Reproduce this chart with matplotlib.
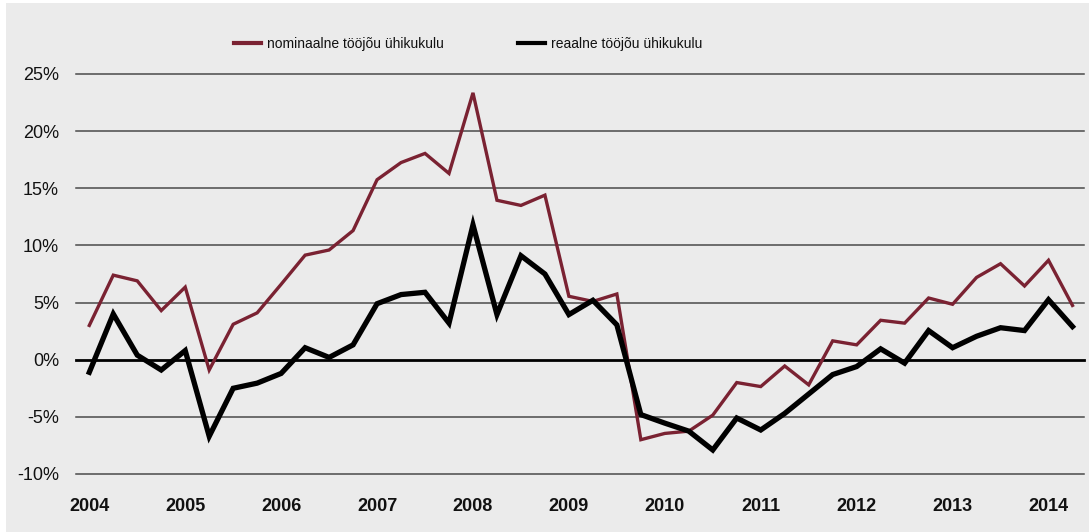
import matplotlib
matplotlib.use("Agg")
import matplotlib.pyplot as plt
from matplotlib.patches import Rectangle
import numpy as np

plt.rcParams['font.family'] = ['Liberation Sans', 'DejaVu Sans']

years = ['2004', '2005', '2006', '2007', '2008', '2009', '2010', '2011', '2012', '2013', '2014']
yticks = [-10, -5, 0, 5, 10, 15, 20, 25]

nominal = [3.0, 7.4, 6.9, 4.3, 6.35, -0.9, 3.1, 4.1, 6.6, 9.15, 9.6, 11.3,
           15.75, 17.25, 18.05, 16.3, 23.35, 13.95, 13.5, 14.4, 5.55, 5.1, 5.75,
           -7.0, -6.45, -6.25, -4.85, -2.0, -2.35, -0.55, -2.2, 1.65, 1.3, 3.45, 3.2,
           5.4, 4.85, 7.2, 8.4, 6.45, 8.7, 4.75]
real = [-1.1, 4.0, 0.4, -0.9, 0.8, -6.7, -2.5, -2.05, -1.2, 1.05, 0.2, 1.3,
        4.9, 5.7, 5.9, 3.2, 11.8, 3.95, 9.1, 7.5, 3.95, 5.2, 3.05,
        -4.8, -5.55, -6.25, -7.9, -5.1, -6.15, -4.7, -3.0, -1.3, -0.6, 0.95, -0.3,
        2.55, 1.05, 2.05, 2.8, 2.55, 5.25, 2.9]

W, H = 1089, 532
fig = plt.figure(figsize=(W / 100, H / 100), dpi=100)
fig.patch.set_facecolor('white')
fig.patches.append(Rectangle((6 / W, 0), 1 - 6 / W, 1 - 3 / H, transform=fig.transFigure,
                             facecolor='#ebebeb', edgecolor='none', zorder=-10))

ax = fig.add_axes([75.7 / W, 1 - 474 / H, (1084 - 75.7) / W, (474 - 74) / H])
ax.patch.set_alpha(0)

x = np.arange(len(nominal))
red = '#7a2232'

for v in yticks:
    if v == 0:
        continue
    ax.axhline(v, color='#4a4a4a', lw=1.1, zorder=1, clip_on=False)
ax.axhline(0, color='black', lw=2.0, zorder=2, clip_on=False)

ax.plot(x, nominal, color=red, lw=2.4, solid_joinstyle='miter', zorder=3,
        label='nominaalne tööjõu ühikukulu')
ax.plot(x, real, color='black', lw=3.8, solid_joinstyle='miter', zorder=4,
        label='reaalne tööjõu ühikukulu')

ax.set_xlim((75.7 - 89.3) / 23.98, (1084 - 89.3) / 23.98)
ax.set_ylim(-10, 25)

ax.set_yticks(yticks)
ax.set_yticklabels([f'{v}%' for v in yticks], fontsize=13, color='#111111')
ax.set_xticks(np.arange(0, len(years) * 4, 4))
ax.set_xticklabels(years, fontsize=13, fontweight='bold', color='#111111')
ax.tick_params(axis='y', length=0, pad=12)
ax.tick_params(axis='x', length=0, pad=17)
for s in ax.spines.values():
    s.set_visible(False)

leg = fig.legend(loc='center', bbox_to_anchor=(468 / W, 1 - 44 / H), ncol=2, frameon=False,
                 fontsize=10, handlelength=1.95, handletextpad=0.45, columnspacing=5.3)
for ln in leg.get_lines():
    ln.set_linewidth(3.0)
for t in leg.get_texts():
    t.set_color('#111111')

fig.savefig('out.png', dpi=100, facecolor=fig.get_facecolor())
